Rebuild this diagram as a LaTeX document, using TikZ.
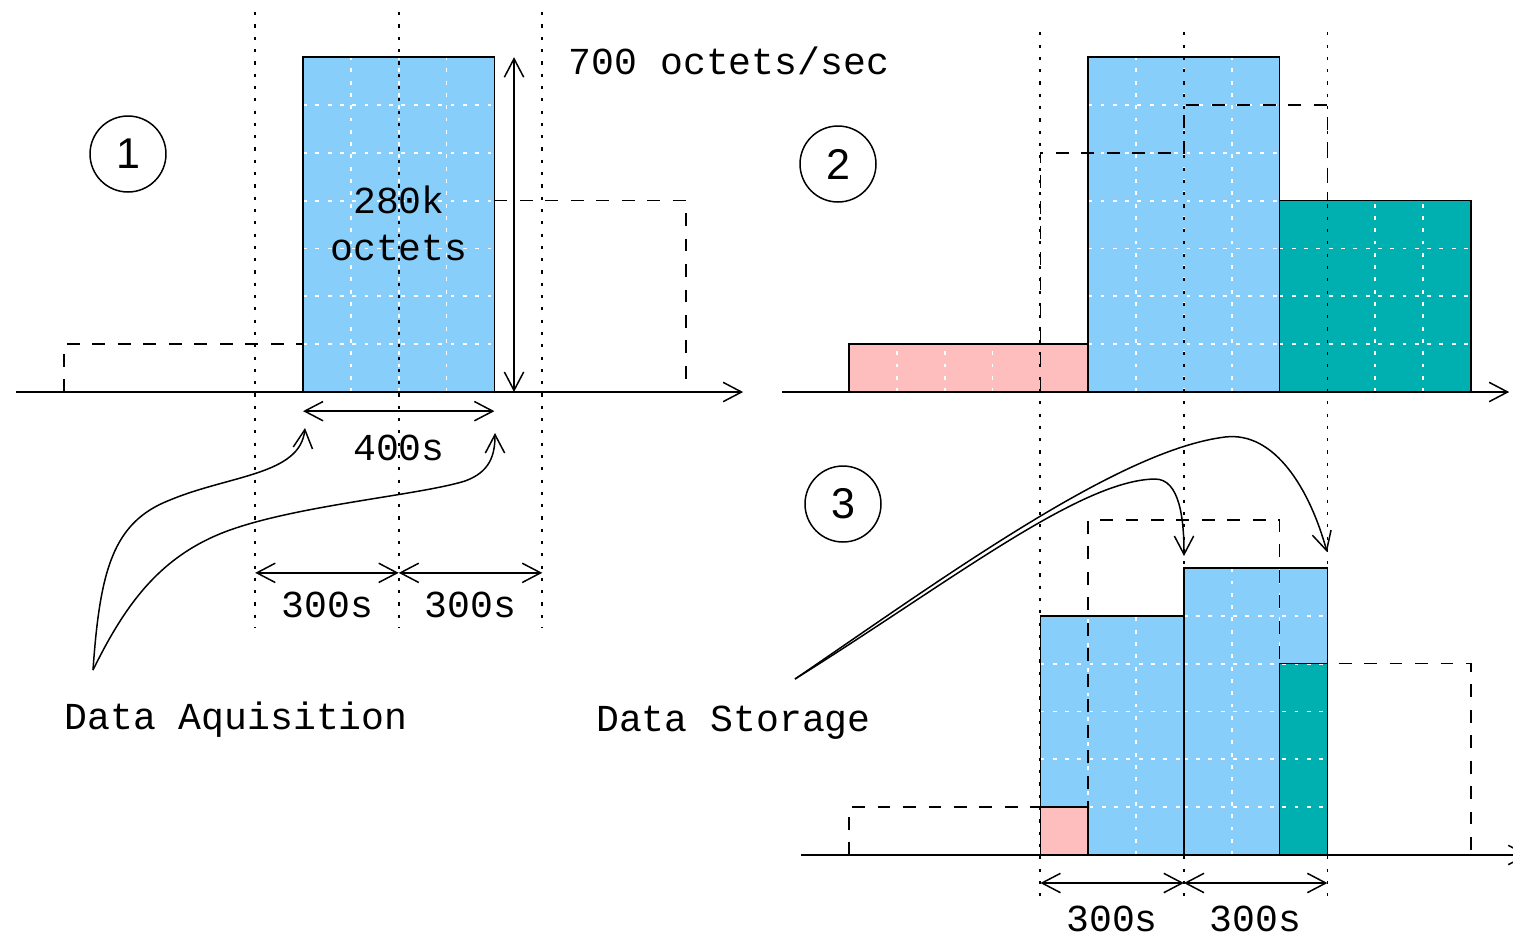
\documentclass[tikz,border=0pt]{standalone}
\usepackage{fontspec}
\setmainfont{Liberation Sans}
\newfontfamily\monof{Liberation Mono}
\usetikzlibrary{arrows.meta}
\definecolor{lblue}{RGB}{135,206,250}
\definecolor{lpink}{RGB}{255,190,190}
\definecolor{lteal}{RGB}{0,175,175}
\tikzset{
  tip/.style={-{Straight Barb[length=10.5pt,width=11pt]}},
  dtip/.style={{Straight Barb[length=10.5pt,width=11pt]}-{Straight Barb[length=10.5pt,width=11pt]}},
  vdots/.style={black, line width=1pt, dash pattern=on 1.8pt off 5.2pt},
  wgrid/.style={white, line width=1pt, dash pattern=on 2.2pt off 4.8pt},
  dsh/.style={black, line width=0.9pt, dash pattern=on 7.3pt off 7.2pt},
  bar/.style={draw=black, line width=0.9pt},
  lbl/.style={font=\monof\fontsize{21.7}{26}\selectfont, inner sep=0pt, anchor=base},
  num/.style={circle, draw, line width=0.85pt, minimum size=1.52cm, inner sep=0pt, font=\fontsize{24.5}{28}\selectfont}
}
\begin{document}
\begin{tikzpicture}[x=0.02cm, y=-0.02cm, line width=0.85pt]
\useasboundingbox (0,0) rectangle (1513,938);
\fill[white] (0,0) rectangle (1513,938);

% ---------------- Panel 1 ----------------
\begin{scope}[shift={(16,392)}, x=0.957cm, y=0.957cm]
  \fill[lblue] (6,0) rectangle (10,7);
  \foreach \i in {7,8,9} \draw[wgrid] (\i,0) -- (\i,7);
  \foreach \j in {1,...,6} \draw[wgrid] (6,\j) -- (10,\j);
  \draw[bar] (6,0) rectangle (10,7);
  \foreach \i in {5,8,11} \draw[vdots] (\i,7.94) -- (\i,-4.93);
  \draw[dsh] (1,0) -- (1,1) -- (6,1);
  \draw[dsh] (10,4) -- (14,4) -- (14,0);
  \draw[tip] (0,0) -- (15.2,0);
  \draw[dtip] (10.41,7) -- (10.41,0);
  \draw[dtip] (6,-0.4) -- (10,-0.4);
  \draw[dtip] (5,-3.78) -- (8,-3.78);
  \draw[dtip] (8,-3.78) -- (11,-3.78);
\end{scope}

% ---------------- Panel 2 ----------------
\begin{scope}[shift={(801.15,392)}, x=0.957cm, y=0.957cm]
  \fill[lpink] (1,0) rectangle (6,1);
  \fill[lblue] (6,0) rectangle (10,7);
  \fill[lteal] (10,0) rectangle (14,4);
  \foreach \i in {2,3,4} \draw[wgrid] (\i,0) -- (\i,1);
  \foreach \i in {7,8,9} \draw[wgrid] (\i,0) -- (\i,7);
  \foreach \j in {1,...,6} \draw[wgrid] (6,\j) -- (10,\j);
  \foreach \i in {12,13} \draw[wgrid] (\i,0) -- (\i,4);
  \foreach \j in {1,2,3} \draw[wgrid] (10,\j) -- (14,\j);
  \draw[bar] (1,0) rectangle (6,1);
  \draw[bar] (6,0) rectangle (10,7);
  \draw[bar] (10,0) rectangle (14,4);
  \foreach \i in {5,8,11} \draw[vdots] (\i,7.52) -- (\i,-10.72);
  \draw[dsh] (5,0) -- (5,5) -- (8,5) -- (8,6) -- (11,6) -- (11,4);
  \draw[tip] (-0.4,0) -- (14.8,0);
\end{scope}

% ---------------- Panel 3 ----------------
\begin{scope}[shift={(801.15,855)}, x=0.957cm, y=0.957cm]
  \fill[lblue] (5,0) rectangle (8,5);
  \fill[lblue] (8,0) rectangle (11,6);
  \fill[lpink] (5,0) rectangle (6,1);
  \fill[lteal] (10,0) rectangle (11,4);
  \draw[wgrid] (7,0) -- (7,5);
  \draw[wgrid] (6,1) -- (6,5);
  \foreach \j in {1,...,4} \draw[wgrid] (5,\j) -- (8,\j);
  \foreach \i in {9,10} \draw[wgrid] (\i,0) -- (\i,6);
  \foreach \j in {1,...,5} \draw[wgrid] (8,\j) -- (11,\j);
  \draw[bar] (5,0) rectangle (8,5);
  \draw[bar] (8,0) rectangle (11,6);
  \draw[bar] (5,0) rectangle (6,1);
  \draw[bar] (10,0) rectangle (11,4);
  \draw[dsh] (1,0) -- (1,1) -- (6,1) -- (6,7) -- (10,7) -- (10,4) -- (14,4) -- (14,0);
  \draw[tip] (0,0) -- (15.2,0);
  \draw[dtip] (5,-0.585) -- (8,-0.585);
  \draw[dtip] (8,-0.585) -- (11,-0.585);
\end{scope}

% ---------------- Labels ----------------
\node[lbl] (rate) at (729,74) {700 octets/sec};
\node[lbl] (k280) at (399,213) {280k};
\node[lbl] (oct) at (399,260) {octets};
\node[lbl] (t400) at (399,460) {400s};
\node[lbl] (t300a) at (327.5,617) {300s};
\node[lbl] (t300b) at (470.5,617) {300s};
\node[lbl] (t300c) at (1112,931) {300s};
\node[lbl] (t300d) at (1255.7,931) {300s};
\node[lbl] (acqlbl) at (236,729) {Data Aquisition};
\node[lbl] (stolbl) at (733.5,731) {Data Storage};

\node[num] (n1) at (128,154) {1};
\node[num] (n2) at (838,164) {2};
\node[num] (n3) at (843,504) {3};

% ---------------- Curved arrows ----------------
\coordinate (acq) at (93,670);
\coordinate (ta) at (305,428);
\coordinate (tb) at (495,433);
\draw[tip] (acq) .. controls (100,570) and (113,522) .. (170,500)
  .. controls (230,475) and (300,475) .. (ta);
\draw[tip] (acq) .. controls (125,605) and (160,555) .. (230,530)
  .. controls (300,505) and (420,495) .. (465,481)
  .. controls (490,472) and (495,455) .. (tb);

\coordinate (sto) at (795,679);
\coordinate (sa) at (1184,556);
\coordinate (sb) at (1327,552);
\draw[tip] (sto) .. controls (950,582) and (1080,480) .. (1155,479)
  .. controls (1180,479) and (1184,520) .. (sa);
\draw[tip] (sto) .. controls (950,573) and (1120,450) .. (1225,437)
  .. controls (1275,431) and (1310,490) .. (sb);
\end{tikzpicture}
\end{document}
